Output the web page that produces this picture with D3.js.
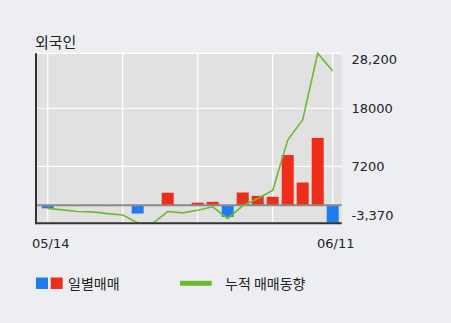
<!DOCTYPE html>
<html>
<head>
<meta charset="utf-8">
<script src="https://cdn.jsdelivr.net/npm/d3@7"></script>
<style>
html,body{margin:0;padding:0;background:#edeef2;}
svg{display:block;}
</style>
</head>
<body>
<svg id="chart" width="451" height="323"></svg>
<script>
// ---- data ----
const title = "외국인";
const dates = ["05/14","05/17","05/18","05/20","05/21","05/24","05/25","05/26","05/27","05/28",
               "05/31","06/01","06/02","06/03","06/04","06/07","06/08","06/09","06/10","06/11"];
const daily = [-600,-160,-170,-60,-170,-150,-1550,-60,2300,-150,450,620,-2180,2340,1730,1540,9300,4200,12480,-3260];
const cumulative = [-600,-880,-1190,-1250,-1570,-1820,-3320,-3370,-1190,-1440,-940,-310,-2470,-120,1250,2720,12100,15860,28200,24900];
const yTickValues = [28200, 18000, 7200, -3370];
const yTickLabels = ["28,200", "18000", "7200", "-3,370"];
const xTickLabels = ["05/14", "06/11"];
const legendLabels = ["일별매매", "누적 매매동향"];

// ---- layout ----
const svg = d3.select("#chart");
const plot = {left: 36, right: 341.7, top: 53.3, bottom: 223.3};
const colors = {bg: "#e1e1e1", grid: "#ffffff", blue: "#1f7cf0", red: "#ee2e1a", green: "#6abb2e", axis: "#333333", zero: "#8a8a8a", text: "#222222"};
const kfont = "'Noto Sans CJK KR', sans-serif";
const nfont = "'DejaVu Sans', sans-serif";

const x = d3.scalePoint().domain(dates).range([47.7, 332.7]);
const barW = x.step() * 0.8;
const y = d3.scaleLinear().domain([d3.min(cumulative.concat(daily)), d3.max(cumulative.concat(daily))])
  .range([plot.bottom, plot.top]);

// plot background
svg.append("rect").attr("x", plot.left).attr("y", plot.top)
  .attr("width", plot.right - plot.left).attr("height", plot.bottom - plot.top)
  .attr("fill", colors.bg);

// horizontal grid
svg.append("g").selectAll("line").data([28200, 18000, 7200]).join("line")
  .attr("x1", plot.left).attr("x2", plot.right)
  .attr("y1", d => y(d)).attr("y2", d => y(d))
  .attr("stroke", colors.grid).attr("stroke-width", 1.2);

// vertical grid
const vIdx = [0, 5, 10, 15, 19];
svg.append("g").selectAll("line").data(vIdx).join("line")
  .attr("x1", i => x(dates[i])).attr("x2", i => x(dates[i]))
  .attr("y1", plot.top).attr("y2", plot.bottom)
  .attr("stroke", colors.grid).attr("stroke-width", 1.2);

// bars
svg.append("g").selectAll("rect").data(daily).join("rect")
  .attr("x", (d, i) => x(dates[i]) - barW / 2)
  .attr("width", barW)
  .attr("y", d => Math.min(y(d), y(0)))
  .attr("height", d => Math.abs(y(d) - y(0)))
  .attr("fill", d => d < 0 ? colors.blue : colors.red);

// zero line
svg.append("line").attr("x1", plot.left).attr("x2", plot.right)
  .attr("y1", y(0)).attr("y2", y(0))
  .attr("stroke", colors.zero).attr("stroke-width", 2);

// cumulative line
svg.append("path").datum(cumulative)
  .attr("d", d3.line().x((d, i) => x(dates[i])).y(d => y(d)))
  .attr("fill", "none").attr("stroke", colors.green).attr("stroke-width", 1.6);

// axes lines
svg.append("line").attr("x1", plot.left).attr("x2", plot.left)
  .attr("y1", plot.top).attr("y2", plot.bottom + 1)
  .attr("stroke", colors.axis).attr("stroke-width", 2);
svg.append("line").attr("x1", plot.left).attr("x2", plot.right)
  .attr("y1", plot.bottom).attr("y2", plot.bottom)
  .attr("stroke", colors.axis).attr("stroke-width", 2);

// y labels
const yOffsets = [6, 0, 0, -8];
svg.append("g").selectAll("text").data(yTickValues).join("text")
  .attr("x", 351.5)
  .attr("y", (d, i) => y(d) + yOffsets[i])
  .attr("dy", "0.36em")
  .attr("font-family", nfont).attr("font-size", 13)
  .attr("fill", colors.text)
  .text((d, i) => yTickLabels[i]);

// x labels
svg.append("g").selectAll("text").data(xTickLabels).join("text")
  .attr("x", d => x(d) + 3)
  .attr("y", 248)
  .attr("text-anchor", "middle")
  .attr("font-family", nfont).attr("font-size", 13)
  .attr("fill", colors.text)
  .text(d => d);

// title
svg.append("text").attr("x", 35).attr("y", 47.5)
  .attr("font-family", kfont).attr("font-size", 15)
  .attr("fill", colors.text).text(title);

// legend
const lg = svg.append("g");
lg.append("rect").attr("x", 36).attr("y", 277.5).attr("width", 12).attr("height", 11.5).attr("fill", colors.blue);
lg.append("rect").attr("x", 50.7).attr("y", 277.5).attr("width", 12).attr("height", 11.5).attr("fill", colors.red);
lg.append("text").attr("x", 68).attr("y", 288.5)
  .attr("font-family", kfont).attr("font-size", 14).attr("fill", colors.text).text(legendLabels[0]);
lg.append("line").attr("x1", 180).attr("x2", 211.7).attr("y1", 283.3).attr("y2", 283.3)
  .attr("stroke", colors.green).attr("stroke-width", 5);
lg.append("text").attr("x", 225).attr("y", 288.5)
  .attr("font-family", kfont).attr("font-size", 14).attr("fill", colors.text).text(legendLabels[1]);
</script>
</body>
</html>
